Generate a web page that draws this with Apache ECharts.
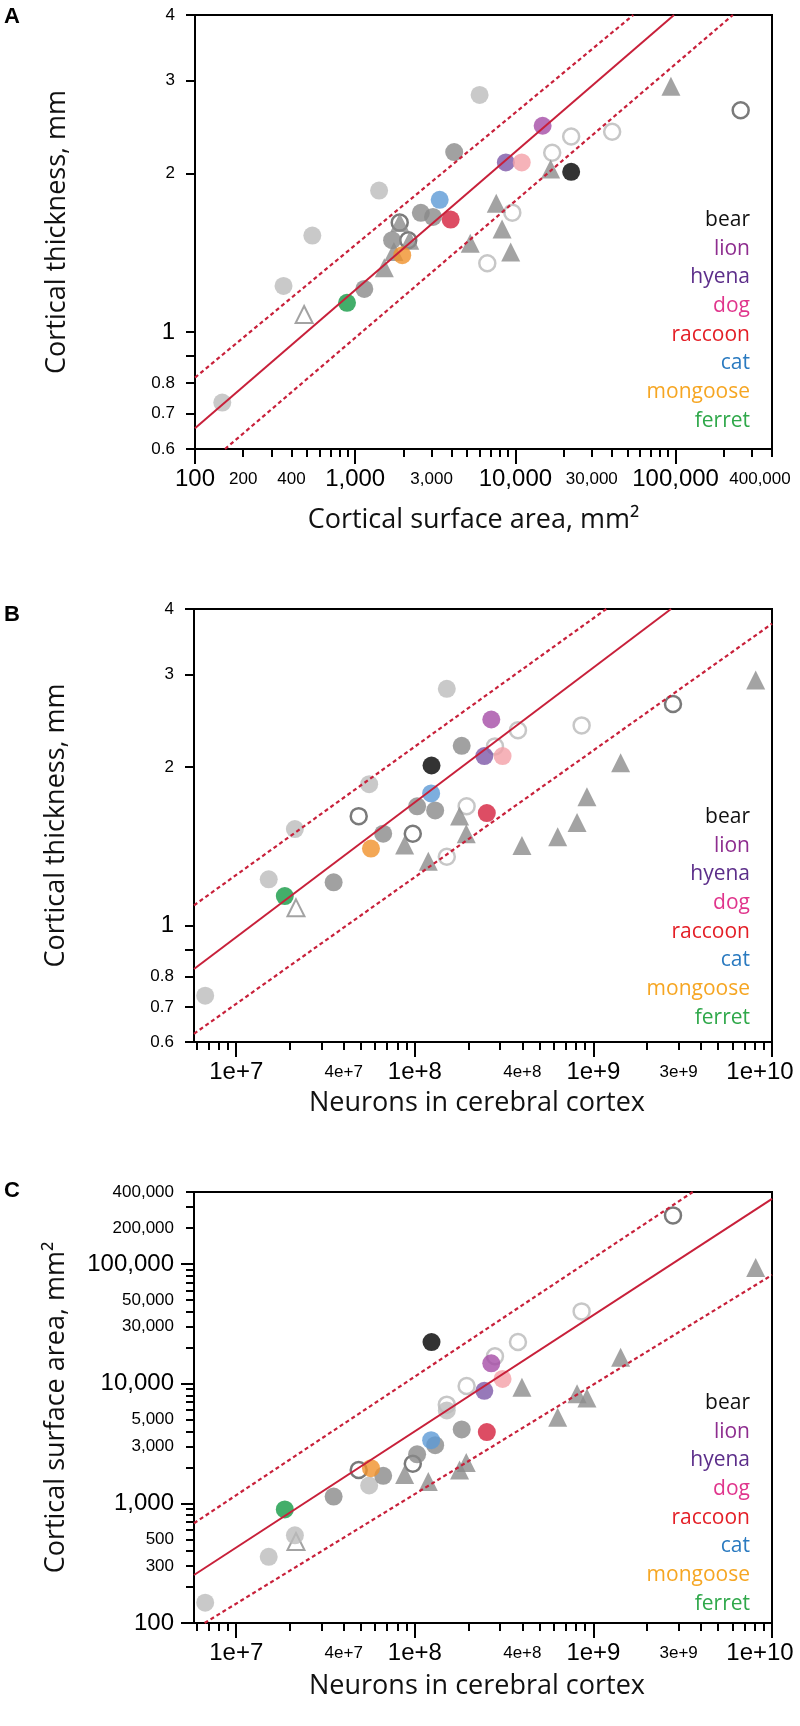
<!DOCTYPE html>
<html><head><meta charset="utf-8">
<script src="https://cdn.jsdelivr.net/npm/echarts@6/dist/echarts.min.js"></script>
<style>html,body{margin:0;padding:0;background:#fff}#chart{width:800px;height:1726px}</style>
</head><body><div id="chart"></div>
<script>
// ---------------- data ----------------
const species = ['bear','lion','hyena','dog','raccoon','cat','mongoose','ferret'];
const speciesArea = [22300,14800,8720,10960,3945,3370,1967,889];
const speciesNeurons = [1.24e8,2.68e8,2.45e8,3.10e8,2.53e8,1.234e8,5.68e7,1.87e7];
const speciesThickness = [2.015,2.465,2.10,2.10,1.636,1.783,1.40,1.137];
const speciesMarkerColors = ['#000000','#a54ca6','#7d57a8','#f4a0a7','#d5213d','#5d9ad6','#f0912b','#149a45'];
const speciesTextColors = ['#111111','#8e2d8f','#5c2e8a','#e0358c','#e41e26','#2a7ac0','#f6a623','#2fa84a'];

const lightGrayArea = [5980,1410,540,357,148];
const lightGrayNeurons = [1.51e8,5.55e7,2.13e7,1.52e7,6.7e6];
const lightGrayThickness = [2.82,1.857,1.525,1.224,0.735];

const darkGrayArea = [4150,2570,3060,1700,1140];
const darkGrayNeurons = [1.83e8,1.03e8,1.30e8,6.65e7,3.51e7];
const darkGrayThickness = [2.197,1.685,1.655,1.495,1.208];

const openDarkArea = [1897,2144,255000];
const openDarkNeurons = [4.85e7,9.74e7,2.79e9];
const openDarkThickness = [1.614,1.494,2.638];

const openLightArea = [22300,16980,9570,6680,40200];
const openLightNeurons = [3.78e8,2.81e8,1.95e8,1.51e8,8.59e8];
const openLightThickness = [2.352,2.191,1.686,1.351,2.402];

const triangleArea = [93600,16600,7600,8260,5230,9350,2190,1897,1745,1520];
const triangleNeurons = [8.1e9,1.42e9,9.2e8,8.1e8,6.31e8,3.98e8,1.94e8,1.78e8,8.77e7,1.19e8];
const triangleThickness = [2.93,2.04,1.757,1.57,1.475,1.419,1.494,1.615,1.422,1.325];

const openTriangleArea = [480];
const openTriangleNeurons = [2.16e7];
const openTriangleThickness = [1.08];

// regression fit and band lines, [x, y] end points
const fitA = [[100,0.657],[97800,4]];
const upperA = [[100,0.82],[54500,4]];
const lowerA = [[154,0.6],[228000,4]];
const fitB = [[5.8e6,0.826],[2.72e9,4]];
const upperB = [[5.8e6,1.092],[1.18e9,4]];
const lowerB = [[5.8e6,0.622],[1e10,3.75]];
const fitC = [[5.8e6,252],[1e10,351000]];
const upperC = [[5.8e6,682],[3.6e9,400000]];
const lowerC = [[6.65e6,100],[1e10,81000]];

// tick labels
const areaLabelsA = [100,200,400,1000,3000,10000,30000,100000,400000];
const thicknessLabels = [0.6,0.7,0.8,1,2,3,4];
const thicknessTicks = [0.6,0.7,0.8,0.9,1,2,3,4];
const neuronLabels = [1e7,4e7,1e8,4e8,1e9,3e9,1e10];
const areaLabelsC = [100,300,500,1000,3000,5000,10000,30000,50000,100000,200000,400000];

// ---------------- helpers ----------------
const TICK_FONT = 'Liberation Sans, Arial, sans-serif';
const TITLE_FONT = 'Open Sans, sans-serif';
const TICK_LINE = {color: '#000', width: 2};

function isPow10(v){ const l = Math.log10(v); return Math.abs(l - Math.round(l)) < 1e-9; }
function decadeTicks(min, max){
  const out = [];
  for (let e = Math.floor(Math.log10(min)); e <= Math.ceil(Math.log10(max)); e++) {
    const v = Math.pow(10, e);
    if (v >= min * 0.9999 && v <= max * 1.0001) out.push(v);
  }
  return out;
}
function subDecadeTicks(min, max){
  const out = [];
  for (let e = Math.floor(Math.log10(min)); e <= Math.ceil(Math.log10(max)); e++) {
    for (let m = 2; m <= 9; m++) {
      const v = m * Math.pow(10, e);
      if (v >= min * 0.9999 && v <= max * 1.0001) out.push(v);
    }
  }
  return out;
}
function fmtArea(v){ return Math.round(v).toString().replace(/\B(?=(\d{3})+(?!\d))/g, ','); }
function fmtThick(v){ return String(+v.toFixed(2)); }
function fmtNeurons(v){ const e = Math.floor(Math.log10(v) + 1e-9); const m = Math.round(v / Math.pow(10, e)); return m + 'e+' + e; }
function richFor(big, small){
  const b = {fontSize: big, fontFamily: TICK_FONT, color: '#000', lineHeight: 24};
  const s = {fontSize: small, fontFamily: TICK_FONT, color: '#000', lineHeight: 24};
  return {big: b, small: s,
    bigEnd: Object.assign({padding: [0, 24, 0, 0]}, b),
    smallEnd: Object.assign({padding: [0, 24, 0, 0]}, s)};
}
// the last label of an x axis sits a little inside the figure edge, as in the original
function labelFormatter(fmt, endValue){
  return v => {
    let key = isPow10(v) ? 'big' : 'small';
    if (endValue && Math.abs(v / endValue - 1) < 1e-6) key += 'End';
    return '{' + key + '|' + fmt(v) + '}';
  };
}

// main log axis (line, labels, long ticks) + an overlaid log axis carrying only the short ticks
function axesFor(dim, grid, min, max, labels, fmt, name, nameGap, namePad, majorTicks, majorLen, minorTicks, minorLen){
  const pos = dim === 'x' ? 'bottom' : 'left';
  const main = {type: 'log', logBase: 10, gridIndex: grid, min: min, max: max, position: pos,
    axisLine: {show: true, onZero: false, lineStyle: {color: '#000', width: 2}},
    axisTick: {show: true, length: majorLen, lineStyle: TICK_LINE, customValues: majorTicks},
    axisLabel: {show: true, margin: dim === 'x' ? 18 : 20, customValues: labels,
      formatter: labelFormatter(fmt, dim === 'x' ? max : null),
      rich: richFor(24, 17), color: '#000', hideOverlap: false},
    splitLine: {show: false}, minorTick: {show: false},
    name: name, nameLocation: 'middle', nameGap: nameGap,
    nameTextStyle: {fontFamily: TITLE_FONT, fontSize: 27, color: '#111', padding: namePad}};
  if (dim === 'x') { main.axisLabel.alignMinLabel = 'center'; main.axisLabel.alignMaxLabel = 'center'; }
  const minor = {type: 'log', logBase: 10, gridIndex: grid, min: min, max: max, position: pos,
    axisLine: {show: false},
    axisTick: {show: minorTicks.length > 0, length: minorLen, lineStyle: TICK_LINE, customValues: minorTicks.length ? minorTicks : [min]},
    axisLabel: {show: false}, splitLine: {show: false}, minorTick: {show: false}};
  return [main, minor];
}

function pts(xs, ys){ return xs.map((x, i) => [x, ys[i]]); }

const groups = [
  {area: openLightArea, neurons: openLightNeurons, thickness: openLightThickness, symbol: 'circle', size: 16,
   style: {color: 'rgba(255,255,255,0)', borderColor: '#b9b9b9', borderWidth: 2.5}},
  {area: openDarkArea, neurons: openDarkNeurons, thickness: openDarkThickness, symbol: 'circle', size: 16,
   style: {color: 'rgba(255,255,255,0)', borderColor: '#595959', borderWidth: 2.5}},
  {area: triangleArea, neurons: triangleNeurons, thickness: triangleThickness, symbol: 'triangle', size: 19,
   style: {color: '#8c8c8c'}},
  {area: openTriangleArea, neurons: openTriangleNeurons, thickness: openTriangleThickness, symbol: 'triangle', size: 17,
   style: {color: 'rgba(255,255,255,0)', borderColor: '#8c8c8c', borderWidth: 2}},
  {area: lightGrayArea, neurons: lightGrayNeurons, thickness: lightGrayThickness, symbol: 'circle', size: 18,
   style: {color: '#bcbcbc'}},
  {area: darkGrayArea, neurons: darkGrayNeurons, thickness: darkGrayThickness, symbol: 'circle', size: 18,
   style: {color: '#8a8a8a'}}
];

const RED = '#c8203a';
function panelSeries(xIdx, yIdx, xKey, yKey, fit, upper, lower){
  const out = [];
  const ax = {xAxisIndex: xIdx, yAxisIndex: yIdx};
  groups.forEach(g => {
    out.push(Object.assign({type: 'scatter', data: pts(g[xKey], g[yKey]), symbol: g.symbol, symbolSize: g.size,
      itemStyle: g.style, z: 2, silent: true}, ax));
  });
  const sp = {area: speciesArea, neurons: speciesNeurons, thickness: speciesThickness};
  species.forEach((s, i) => {
    out.push(Object.assign({type: 'scatter', name: s, data: [[sp[xKey][i], sp[yKey][i]]], symbol: 'circle', symbolSize: 18,
      itemStyle: {color: speciesMarkerColors[i]}, z: 3, silent: true}, ax));
  });
  [[fit, 'solid'], [upper, [4, 3]], [lower, [4, 3]]].forEach(([d, t]) => {
    out.push(Object.assign({type: 'line', data: d, showSymbol: false, symbol: 'none', silent: true, z: 4,
      lineStyle: {color: RED, width: t === 'solid' ? 2 : 2.2, type: t}}, ax));
  });
  return out;
}

function legendFor(top){
  return {orient: 'vertical', right: 45, top: top, icon: 'none', itemWidth: 0, itemHeight: 14, itemGap: 4.7,
    align: 'right', padding: 0, selectedMode: false,
    textStyle: {fontFamily: TITLE_FONT, fontSize: 21, lineHeight: 24},
    data: species.map((s, i) => ({name: s, textStyle: {color: speciesTextColors[i]}}))};
}

const grids = [
  {left: 195, top: 15, width: 577, height: 434},
  {left: 194, top: 609, width: 578, height: 433},
  {left: 194, top: 1192, width: 578, height: 431}
].map(g => Object.assign({show: true, borderColor: '#000', borderWidth: 2, backgroundColor: 'transparent',
  containLabel: false, outerBoundsMode: 'none'}, g));

const AREA_A = [100, 400000], NEUR = [5.8e6, 1e10], THICK = [0.6, 4], AREA_C = [100, 400000];

const xAxis = [].concat(
  axesFor('x', 0, AREA_A[0], AREA_A[1], areaLabelsA, fmtArea, 'Cortical surface area, mm²', 58, [0, 20, 0, 0],
    decadeTicks(AREA_A[0], AREA_A[1]), 15, subDecadeTicks(AREA_A[0], AREA_A[1]), 8),
  axesFor('x', 1, NEUR[0], NEUR[1], neuronLabels, fmtNeurons, 'Neurons in cerebral cortex', 48, [0, 12, 0, 0],
    decadeTicks(NEUR[0], NEUR[1]), 15, subDecadeTicks(NEUR[0], NEUR[1]), 8),
  axesFor('x', 2, NEUR[0], NEUR[1], neuronLabels, fmtNeurons, 'Neurons in cerebral cortex', 50, [0, 12, 0, 0],
    decadeTicks(NEUR[0], NEUR[1]), 15, subDecadeTicks(NEUR[0], NEUR[1]), 8)
);
const yAxis = [].concat(
  axesFor('y', 0, THICK[0], THICK[1], thicknessLabels, fmtThick, 'Cortical thickness, mm', 124, 0, thicknessTicks, 9, [], 9),
  axesFor('y', 1, THICK[0], THICK[1], thicknessLabels, fmtThick, 'Cortical thickness, mm', 124, 0, thicknessTicks, 9, [], 9),
  axesFor('y', 2, AREA_C[0], AREA_C[1], areaLabelsC, fmtArea, 'Cortical surface area, mm²', 124, 0,
    decadeTicks(AREA_C[0], AREA_C[1]), 13, subDecadeTicks(AREA_C[0], AREA_C[1]), 8)
);

const option = {
  animation: false,
  backgroundColor: '#fff',
  title: [
    {text: 'A', left: 4, top: 6, padding: 0, textStyle: {fontFamily: TICK_FONT, fontSize: 22, fontWeight: 'bold', color: '#000'}},
    {text: 'B', left: 4, top: 604, padding: 0, textStyle: {fontFamily: TICK_FONT, fontSize: 22, fontWeight: 'bold', color: '#000'}},
    {text: 'C', left: 4, top: 1180, padding: 0, textStyle: {fontFamily: TICK_FONT, fontSize: 22, fontWeight: 'bold', color: '#000'}}
  ],
  legend: [legendFor(208), legendFor(805), legendFor(1391)],
  grid: grids,
  xAxis: xAxis,
  yAxis: yAxis,
  series: [].concat(
    panelSeries(0, 0, 'area', 'thickness', fitA, upperA, lowerA),
    panelSeries(2, 2, 'neurons', 'thickness', fitB, upperB, lowerB),
    panelSeries(4, 4, 'neurons', 'area', fitC, upperC, lowerC)
  )
};

const chart = echarts.init(document.getElementById('chart'), null, {renderer: 'canvas'});
chart.setOption(option);
</script>
</body></html>
